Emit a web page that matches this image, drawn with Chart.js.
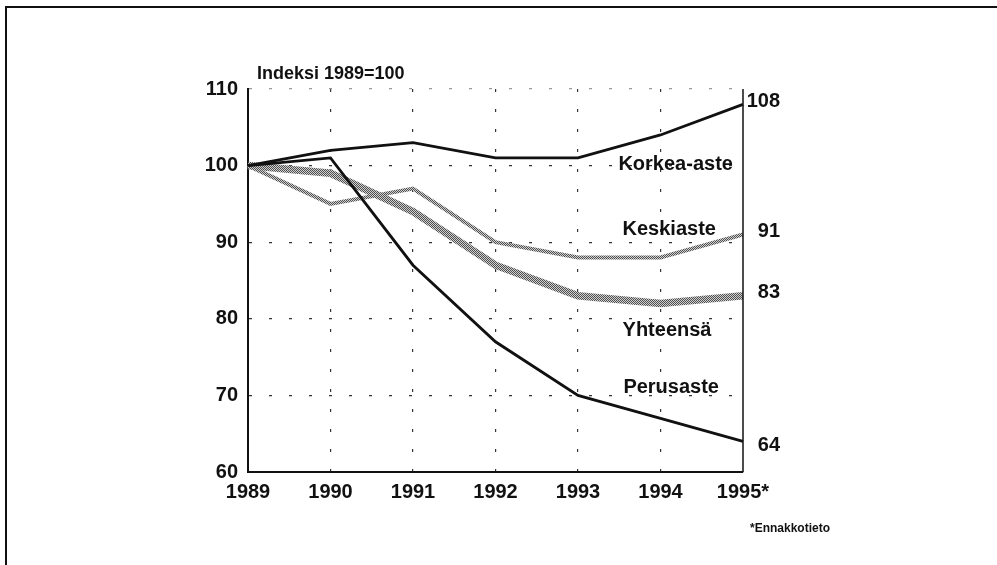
<!DOCTYPE html>
<html>
<head>
<meta charset="utf-8">
<script src="https://cdn.jsdelivr.net/npm/chart.js@4/dist/chart.umd.min.js"></script>
<style>
  html, body { margin: 0; padding: 0; background: #fff; }
  canvas { display: block; }
</style>
</head>
<body>
<canvas id="c" width="997" height="565"></canvas>
<script>
// ---- data ----
const years = ["1989", "1990", "1991", "1992", "1993", "1994", "1995*"];
const korkeaAste = [100, 102, 103, 101, 101, 104, 108];
const perusaste  = [100, 101, 87, 77, 70, 67, 64];
const keskiaste  = [100, 95, 97, 90, 88, 88, 91];
const yhteensa   = [100, 99, 94, 87, 83, 82, 83];
const yTicks = [60, 70, 80, 90, 100, 110];
const axisTitle = "Indeksi 1989=100";
const footnote = "*Ennakkotieto";
const endValueLabels = ["108", "91", "83", "64"];

// series name labels (left edge in category-index space, value space)
const seriesNames = [
  { text: "Korkea-aste", x: 4.49, y: 100.2 },
  { text: "Keskiaste",   x: 4.54, y: 91.7 },
  { text: "Yhteensä",    x: 4.54, y: 78.5 },
  { text: "Perusaste",   x: 4.55, y: 71.0 }
];

const FONT = "'Liberation Sans', Arial, sans-serif";

function hatch(dark, light) {
  const p = document.createElement('canvas');
  p.width = 2; p.height = 2;
  const g = p.getContext('2d');
  g.fillStyle = light; g.fillRect(0, 0, 2, 2);
  g.fillStyle = dark; g.fillRect(0, 0, 1, 1); g.fillRect(1, 1, 1, 1);
  return g.createPattern(p, 'repeat');
}
const ctx = document.getElementById('c').getContext('2d');
const greyPattern = hatch('#4f4f4f', '#d0d0d0');

const decor = {
  id: 'decor',
  beforeDraw(chart) {
    const c = chart.ctx;
    c.save();
    c.fillStyle = '#fff';
    c.fillRect(0, 0, chart.width, chart.height);
    c.strokeStyle = '#111';
    c.lineWidth = 2;
    c.beginPath();
    c.moveTo(6, 565); c.lineTo(6, 7); c.lineTo(997, 7);
    c.stroke();
    c.restore();
  },
  afterDatasetsDraw(chart) {
    const c = chart.ctx;
    const a = chart.chartArea;
    const xs = chart.scales.x, ys = chart.scales.y;
    c.save();
    // right border
    c.strokeStyle = '#111';
    c.lineWidth = 1.5;
    c.beginPath();
    c.moveTo(a.right, a.top); c.lineTo(a.right, a.bottom);
    c.stroke();
    // axis title
    c.fillStyle = '#111';
    c.font = "bold 18px " + FONT;
    c.textBaseline = 'middle';
    c.textAlign = 'left';
    c.fillText(axisTitle, a.left + 9, a.top - 15);
    // series names
    c.font = "bold 20px " + FONT;
    c.textAlign = 'left';
    seriesNames.forEach(s => {
      c.fillText(s.text, xs.getPixelForValue(s.x), ys.getPixelForValue(s.y));
    });
    // end value labels (right-aligned)
    c.textAlign = 'right';
    c.font = "bold 20px " + FONT;
    const lastIdx = years.length - 1;
    const ends = [korkeaAste[lastIdx], keskiaste[lastIdx], yhteensa[lastIdx], perusaste[lastIdx]];
    ends.forEach((v, i) => {
      c.fillText(endValueLabels[i], a.right + 37, ys.getPixelForValue(v) + (i === 3 ? 4 : -3));
    });
    // footnote
    c.font = "bold 12px " + FONT;
    c.textAlign = 'right';
    c.fillText(footnote, a.right + 87, 529);
    c.restore();
  }
};

new Chart(ctx, {
  type: 'line',
  data: {
    labels: years,
    datasets: [
      { label: 'Korkea-aste', data: korkeaAste, borderColor: '#111', borderWidth: 2.8, pointRadius: 0, tension: 0, fill: false },
      { label: 'Perusaste', data: perusaste, borderColor: '#111', borderWidth: 2.8, pointRadius: 0, tension: 0, fill: false },
      { label: 'Keskiaste', data: keskiaste, borderColor: greyPattern, borderWidth: 4, pointRadius: 0, tension: 0, fill: false },
      { label: 'Yhteensä', data: yhteensa, borderColor: greyPattern, borderWidth: 7.5, pointRadius: 0, tension: 0, fill: false }
    ]
  },
  options: {
    responsive: false,
    animation: false,
    devicePixelRatio: 1,
    layout: { padding: { left: 0, right: 254, top: 89, bottom: 0 } },
    plugins: { legend: { display: false }, tooltip: { enabled: false }, title: { display: false } },
    scales: {
      x: {
        type: 'category',
        offset: false,
        afterFit(s) { s.height = 93; },
        grid: {
          drawTicks: false,
          color: (ctx) => (ctx.index === 0 || ctx.index === years.length - 1) ? 'rgba(0,0,0,0)' : '#333',
          lineWidth: 1.2
        },
        border: { display: true, color: '#111', width: 2, dash: [3, 17] },
        ticks: { color: '#111', font: { family: FONT, size: 20, weight: 'bold' }, padding: 8, maxRotation: 0, autoSkip: false }
      },
      y: {
        min: 60, max: 110,
        afterFit(s) { s.width = 248; },
        afterBuildTicks(s) { s.ticks = yTicks.map(v => ({ value: v })); },
        grid: {
          drawTicks: false,
          color: (ctx) => {
            if (ctx.tick && ctx.tick.value === 60) return 'rgba(0,0,0,0)';
            if (ctx.tick && ctx.tick.value === 110) return '#999';
            return '#333';
          },
          lineWidth: 1.2
        },
        border: { display: true, color: '#111', width: 2, dash: [3, 17] },
        ticks: { color: '#111', font: { family: FONT, size: 20, weight: 'bold' }, padding: 10 }
      }
    }
  },
  plugins: [decor]
});
</script>
</body>
</html>
